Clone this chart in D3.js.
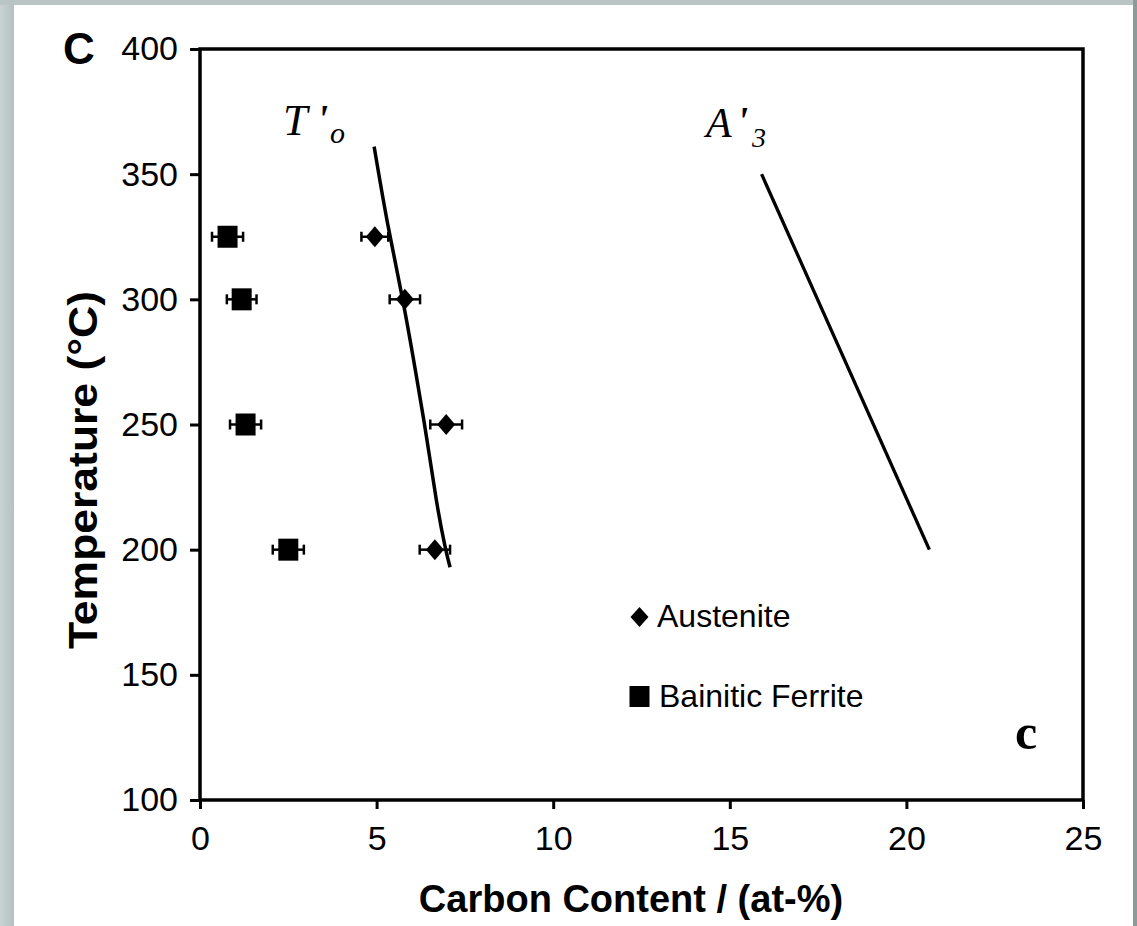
<!DOCTYPE html>
<html>
<head>
<meta charset="utf-8">
<script src="https://cdn.jsdelivr.net/npm/d3@7"></script>
<style>
  html, body { margin: 0; padding: 0; background: #ffffff; }
  svg { display: block; }
  .tick text { font-family: "Liberation Sans", Arial, sans-serif; font-size: 34px; fill: #000; }
</style>
</head>
<body>
<script>
// Measured compositions (at-% C) at each isothermal transformation temperature
const temperatures = [325, 300, 250, 200];
const austeniteCarbon = [4.95, 5.8, 6.97, 6.65];
const austeniteError = [0.38, 0.43, 0.45, 0.43];
const ferriteCarbon = [0.78, 1.18, 1.29, 2.5];
const ferriteError = [0.44, 0.42, 0.44, 0.44];

// T'o phase boundary (carbon, temperature)
const toCarbon = [4.93, 5.3, 5.75, 6.12, 6.42, 6.7, 6.95, 7.08];
const toTemp = [361, 330, 300, 270, 245, 218, 200, 193];

// A'3 phase boundary (carbon, temperature)
const a3Carbon = [15.9, 20.65];
const a3Temp = [350, 200];

const xTicks = [0, 5, 10, 15, 20, 25];
const yTicks = [100, 150, 200, 250, 300, 350, 400];

const W = 1137, H = 926;
const plot = { left: 200, right: 1083, top: 49, bottom: 800 };

const svg = d3.select("body").append("svg")
  .attr("width", W).attr("height", H);

// page background and grey frame strips
svg.append("rect").attr("width", W).attr("height", H).attr("fill", "#ffffff");
const defs = svg.append("defs");
const lg = defs.append("linearGradient").attr("id", "edgeLeft").attr("x1", 0).attr("x2", 1).attr("y1", 0).attr("y2", 0);
lg.append("stop").attr("offset", 0).attr("stop-color", "#c9d3d3");
lg.append("stop").attr("offset", 1).attr("stop-color", "#b4c0c1");
svg.append("rect").attr("x", 0).attr("y", 0).attr("width", 14).attr("height", H).attr("fill", "url(#edgeLeft)");
svg.append("rect").attr("x", 0).attr("y", 0).attr("width", W).attr("height", 5).attr("fill", "#b9c4c4");
svg.append("rect").attr("x", 1133).attr("y", 0).attr("width", 4).attr("height", H).attr("fill", "#8e9a9a");

const x = d3.scaleLinear().domain([0, 25]).range([plot.left, plot.right]);
const y = d3.scaleLinear().domain([100, 400]).range([plot.bottom, plot.top]);

// axes
const yAxis = svg.append("g")
  .attr("transform", `translate(${plot.left},0)`)
  .call(d3.axisLeft(y).tickValues(yTicks).tickSize(10).tickPadding(12).tickFormat(d3.format("d")));
const xAxis = svg.append("g")
  .attr("transform", `translate(0,${plot.bottom})`)
  .call(d3.axisBottom(x).tickValues(xTicks).tickSize(9).tickPadding(17).tickFormat(d3.format("d")));
[yAxis, xAxis].forEach(g => {
  g.select(".domain").remove();
  g.selectAll(".tick line").attr("stroke", "#000").attr("stroke-width", 3);
});

// plot frame
svg.append("rect")
  .attr("x", plot.left).attr("y", plot.top)
  .attr("width", plot.right - plot.left).attr("height", plot.bottom - plot.top)
  .attr("fill", "none").attr("stroke", "#000").attr("stroke-width", 3.5);

// phase boundary lines
const line = d3.line().x(d => x(d[0])).y(d => y(d[1])).curve(d3.curveBasis);
svg.append("path")
  .datum(toCarbon.map((c, i) => [c, toTemp[i]]))
  .attr("d", line).attr("fill", "none").attr("stroke", "#000").attr("stroke-width", 3.5);
svg.append("path")
  .datum(a3Carbon.map((c, i) => [c, a3Temp[i]]))
  .attr("d", d3.line().x(d => x(d[0])).y(d => y(d[1])))
  .attr("fill", "none").attr("stroke", "#000").attr("stroke-width", 3.3);

// error bars
function errorBars(carbon, err) {
  const g = svg.append("g").attr("stroke", "#000").attr("stroke-width", 2.5);
  temperatures.forEach((t, i) => {
    const x0 = x(carbon[i] - err[i]), x1 = x(carbon[i] + err[i]), yy = y(t);
    g.append("line").attr("x1", x0).attr("x2", x1).attr("y1", yy).attr("y2", yy);
    g.append("line").attr("x1", x0).attr("x2", x0).attr("y1", yy - 5).attr("y2", yy + 5);
    g.append("line").attr("x1", x1).attr("x2", x1).attr("y1", yy - 5).attr("y2", yy + 5);
  });
}
errorBars(austeniteCarbon, austeniteError);
errorBars(ferriteCarbon, ferriteError);

function diamondPath(cx, cy, w, h) {
  return `M${cx},${cy - h / 2}L${cx + w / 2},${cy}L${cx},${cy + h / 2}L${cx - w / 2},${cy}Z`;
}

// markers
svg.append("g").selectAll("path")
  .data(temperatures.map((t, i) => [austeniteCarbon[i], t]))
  .join("path")
  .attr("d", d => diamondPath(x(d[0]), y(d[1]), 18, 21))
  .attr("fill", "#000");
svg.append("g").selectAll("rect")
  .data(temperatures.map((t, i) => [ferriteCarbon[i], t]))
  .join("rect")
  .attr("x", d => x(d[0]) - 10).attr("y", d => y(d[1]) - 11)
  .attr("width", 20).attr("height", 22)
  .attr("fill", "#000");

// legend
const sans = "'Liberation Sans', Arial, sans-serif";
const serif = "'Liberation Serif', 'Times New Roman', serif";
svg.append("path").attr("d", diamondPath(639.5, 617, 18, 20)).attr("fill", "#000");
svg.append("text").attr("x", 657).attr("y", 627)
  .attr("font-family", sans).attr("font-size", 32).text("Austenite");
svg.append("rect").attr("x", 629.5).attr("y", 686).attr("width", 20).attr("height", 21).attr("fill", "#000");
svg.append("text").attr("x", 659).attr("y", 707)
  .attr("font-family", sans).attr("font-size", 32).text("Bainitic Ferrite");

// axis titles
svg.append("text")
  .attr("x", 631).attr("y", 912).attr("text-anchor", "middle")
  .attr("font-family", sans).attr("font-size", 38).attr("font-weight", "bold")
  .text("Carbon Content / (at-%)");
svg.append("text")
  .attr("transform", "translate(97,470) rotate(-90)")
  .attr("text-anchor", "middle")
  .attr("font-family", sans).attr("font-size", 40).attr("font-weight", "bold")
  .attr("textLength", 358).attr("lengthAdjust", "spacingAndGlyphs")
  .text("Temperature (°C)");

// panel letters
svg.append("text").attr("x", 63).attr("y", 64)
  .attr("font-family", sans).attr("font-size", 44).attr("font-weight", "bold").text("C");
svg.append("text").attr("x", 1015).attr("y", 749)
  .attr("font-family", serif).attr("font-size", 50).attr("font-weight", "bold").text("c");

// curve labels
const toLabel = svg.append("text").attr("font-family", serif).attr("font-style", "italic");
toLabel.append("tspan").attr("x", 283).attr("y", 135).attr("font-size", 44).text("T");
toLabel.append("tspan").attr("x", 317).attr("y", 132).attr("font-size", 40).attr("font-weight", "bold").text("'");
toLabel.append("tspan").attr("x", 330).attr("y", 143).attr("font-size", 30).text("o");

const a3Label = svg.append("text").attr("font-family", serif).attr("font-style", "italic");
a3Label.append("tspan").attr("x", 706).attr("y", 137).attr("font-size", 42).text("A");
a3Label.append("tspan").attr("x", 737).attr("y", 134).attr("font-size", 40).attr("font-weight", "bold").text("'");
a3Label.append("tspan").attr("x", 752).attr("y", 147).attr("font-size", 28).text("3");
</script>
</body>
</html>
